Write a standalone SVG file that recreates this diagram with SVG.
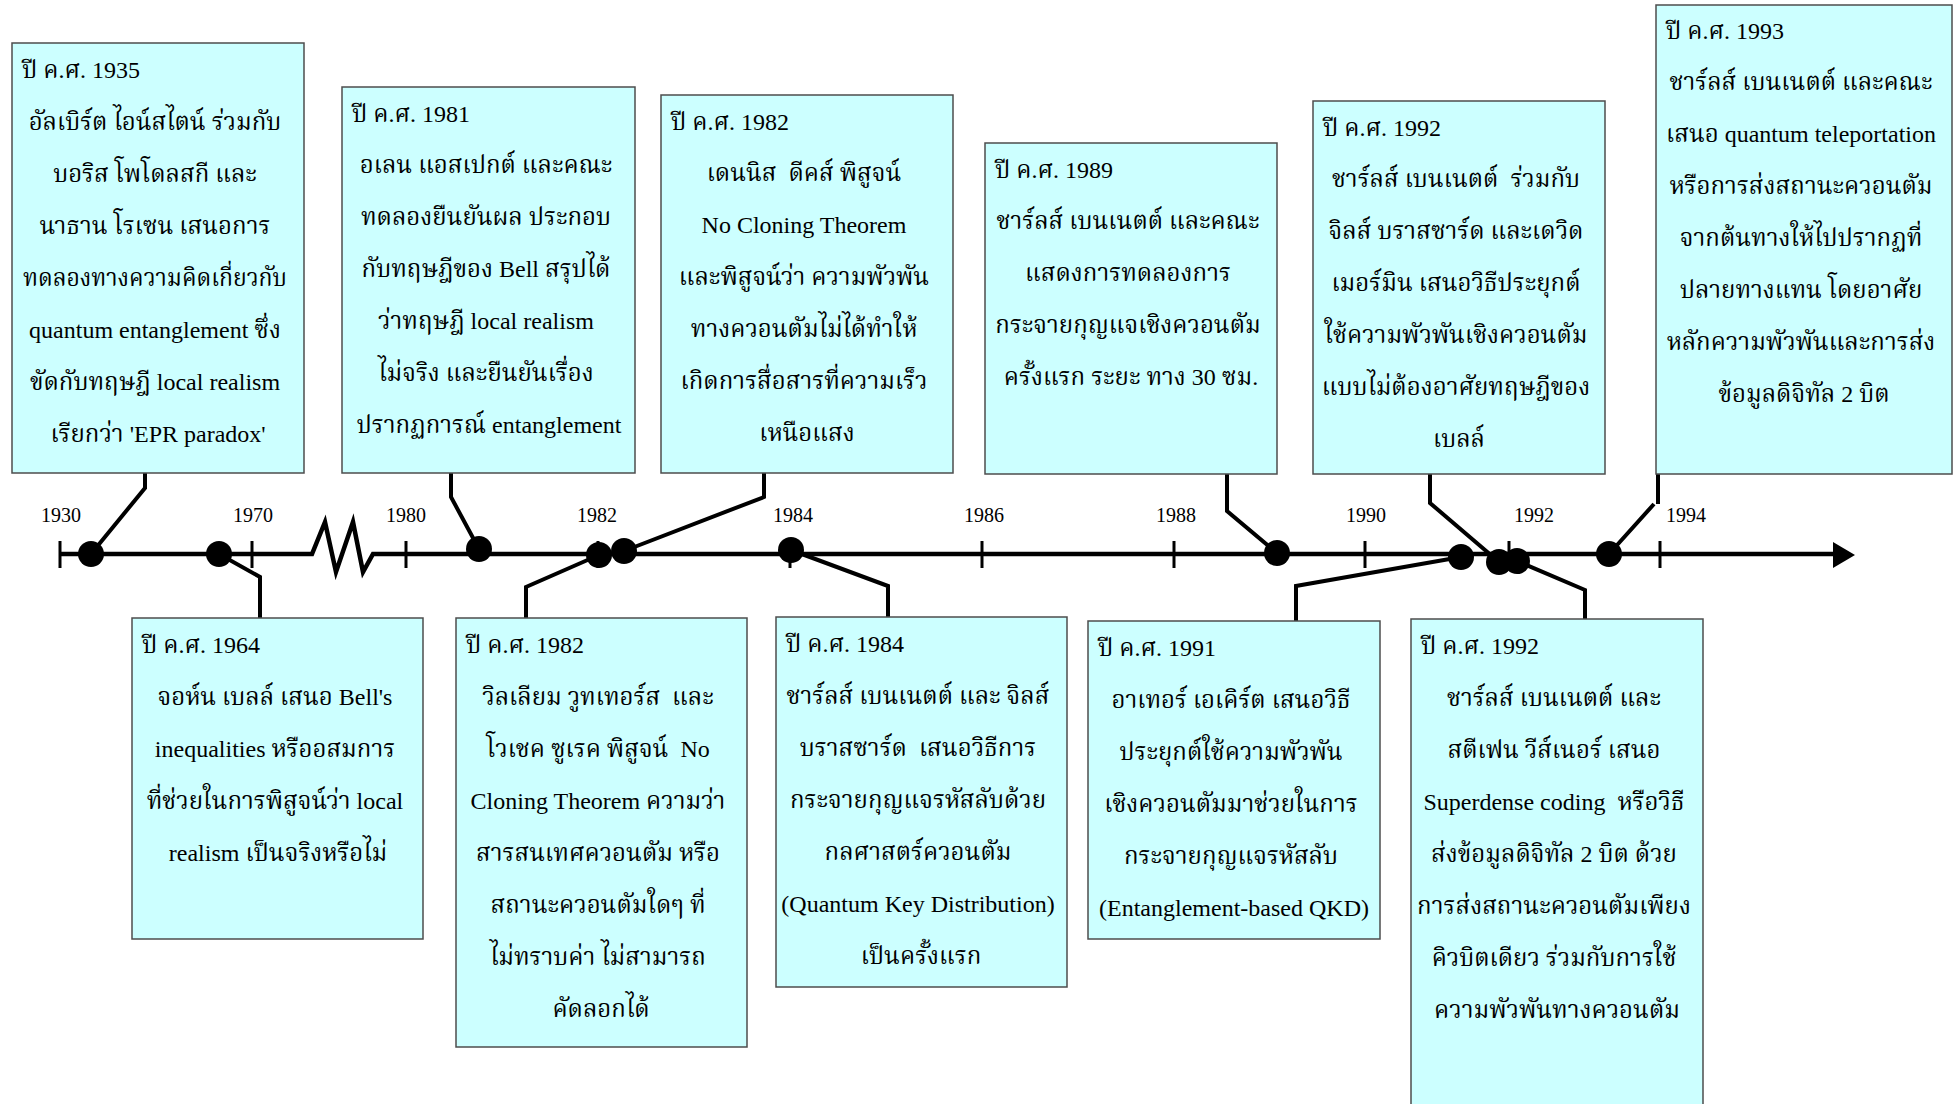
<svg xmlns="http://www.w3.org/2000/svg" width="1955" height="1104" viewBox="0 0 1955 1104">
<style>
  .box { fill: #CCFFFF; stroke: #4d4d4d; stroke-width: 1.5; }
  .hd { font-family: "Liberation Serif", "Noto Serif Thai", serif; font-size: 24px; fill: #000; }
  .bd { font-family: "Liberation Serif", "Noto Serif Thai", serif; font-size: 24px; fill: #000; text-anchor: middle; }
  .yr { font-family: "Liberation Serif", serif; font-size: 20px; fill: #000; text-anchor: middle; }
  .ax { fill: none; stroke: #000; stroke-width: 4.5; }
  .tk { stroke: #000; stroke-width: 3; }
  .cn { fill: none; stroke: #000; stroke-width: 4; stroke-linejoin: miter; }
  .dot { fill: #000; }
</style>

<!-- time axis -->
<g id="axis">
  <line class="tk" x1="60" y1="541" x2="60" y2="568"/>
  <polyline class="ax" points="60,554 312,554 325,522 336,572 353,522 363,572 373,554 1836,554"/>
  <polygon points="1833,542 1855,555 1833,568" fill="#000"/>
  <line class="tk" x1="252" y1="541" x2="252" y2="568"/>
  <line class="tk" x1="406" y1="541" x2="406" y2="568"/>
  <line class="tk" x1="598" y1="541" x2="598" y2="568"/>
  <line class="tk" x1="790" y1="541" x2="790" y2="568"/>
  <line class="tk" x1="982" y1="541" x2="982" y2="568"/>
  <line class="tk" x1="1174" y1="541" x2="1174" y2="568"/>
  <line class="tk" x1="1365" y1="541" x2="1365" y2="568"/>
  <line class="tk" x1="1509" y1="541" x2="1509" y2="568"/>
  <line class="tk" x1="1660" y1="541" x2="1660" y2="568"/>
  <text class="yr" x="61" y="522">1930</text>
  <text class="yr" x="253" y="522">1970</text>
  <text class="yr" x="406" y="522">1980</text>
  <text class="yr" x="597" y="522">1982</text>
  <text class="yr" x="793" y="522">1984</text>
  <text class="yr" x="984" y="522">1986</text>
  <text class="yr" x="1176" y="522">1988</text>
  <text class="yr" x="1366" y="522">1990</text>
  <text class="yr" x="1534" y="522">1992</text>
  <text class="yr" x="1686" y="522">1994</text>
</g>

<!-- leader lines from events to their boxes -->
<g id="connectors">
  <polyline class="cn" points="145,473 145,488 91,554"/>
  <polyline class="cn" points="219,554 260,577 260,618"/>
  <polyline class="cn" points="451,473 451,497 479,549"/>
  <polyline class="cn" points="526,618 526,587 599,555"/>
  <polyline class="cn" points="764,473 764,497 624,551"/>
  <polyline class="cn" points="791,550 888,586 888,617"/>
  <polyline class="cn" points="1227,474 1227,511 1277,553"/>
  <polyline class="cn" points="1461,557 1296,586 1296,621"/>
  <polyline class="cn" points="1430,474 1430,503 1499,562"/>
  <polyline class="cn" points="1517,561 1585,590 1585,619"/>
  <path class="cn" d="M1658,474 V504 M1654,504 L1609,554"/>
</g>

<!-- event markers -->
<g id="markers">
  <circle class="dot" cx="91" cy="554" r="13"/>
  <circle class="dot" cx="219" cy="554" r="13"/>
  <circle class="dot" cx="479" cy="549" r="13"/>
  <circle class="dot" cx="599" cy="555" r="13"/>
  <circle class="dot" cx="624" cy="551" r="13"/>
  <circle class="dot" cx="791" cy="550" r="13"/>
  <circle class="dot" cx="1277" cy="553" r="13"/>
  <circle class="dot" cx="1461" cy="557" r="13"/>
  <circle class="dot" cx="1499" cy="562" r="13"/>
  <circle class="dot" cx="1517" cy="561" r="13"/>
  <circle class="dot" cx="1609" cy="554" r="13"/>
</g>

<g id="event-1935">
  <rect class="box" x="12" y="43" width="292" height="430"/>
  <text class="hd" x="22" y="78">ปี ค.ศ. 1935</text>
  <text class="bd">
    <tspan x="158" y="130">อัลเบิร์ต ไอน์สไตน์ ร่วมกับ</tspan>
    <tspan x="158" y="182">บอริส โพโดลสกี และ</tspan>
    <tspan x="158" y="234">นาธาน โรเซน เสนอการ</tspan>
    <tspan x="158" y="286" textLength="264" lengthAdjust="spacingAndGlyphs">ทดลองทางความคิดเกี่ยวกับ</tspan>
    <tspan x="158" y="338">quantum entanglement ซึ่ง</tspan>
    <tspan x="158" y="390">ขัดกับทฤษฎี local realism</tspan>
    <tspan x="158" y="442">เรียกว่า 'EPR paradox'</tspan>
  </text>
</g>

<g id="event-1964">
  <rect class="box" x="132" y="618" width="291" height="321"/>
  <text class="hd" x="142" y="653">ปี ค.ศ. 1964</text>
  <text class="bd">
    <tspan x="278" y="705">จอห์น เบลล์ เสนอ Bell's</tspan>
    <tspan x="278" y="757">inequalities หรืออสมการ</tspan>
    <tspan x="278" y="809">ที่ช่วยในการพิสูจน์ว่า local</tspan>
    <tspan x="278" y="861">realism เป็นจริงหรือไม่</tspan>
  </text>
</g>

<g id="event-1981">
  <rect class="box" x="342" y="87" width="293" height="386"/>
  <text class="hd" x="352" y="122">ปี ค.ศ. 1981</text>
  <text class="bd">
    <tspan x="489" y="173">อเลน แอสเปกต์ และคณะ</tspan>
    <tspan x="489" y="225">ทดลองยืนยันผล ประกอบ</tspan>
    <tspan x="489" y="277">กับทฤษฎีของ Bell สรุปได้</tspan>
    <tspan x="489" y="329">ว่าทฤษฎี local realism</tspan>
    <tspan x="489" y="381">ไม่จริง และยืนยันเรื่อง</tspan>
    <tspan x="489" y="433">ปรากฏการณ์ entanglement</tspan>
  </text>
</g>

<g id="event-1982-dieks">
  <rect class="box" x="661" y="95" width="292" height="378"/>
  <text class="hd" x="671" y="130">ปี ค.ศ. 1982</text>
  <text class="bd">
    <tspan x="807" y="181">เดนนิส&#160; ดีคส์ พิสูจน์</tspan>
    <tspan x="807" y="233">No Cloning Theorem</tspan>
    <tspan x="807" y="285">และพิสูจน์ว่า ความพัวพัน</tspan>
    <tspan x="807" y="337">ทางควอนตัมไม่ได้ทำให้</tspan>
    <tspan x="807" y="389">เกิดการสื่อสารที่ความเร็ว</tspan>
    <tspan x="807" y="441">เหนือแสง</tspan>
  </text>
</g>

<g id="event-1982-wootters">
  <rect class="box" x="456" y="618" width="291" height="429"/>
  <text class="hd" x="466" y="653">ปี ค.ศ. 1982</text>
  <text class="bd">
    <tspan x="601" y="705">วิลเลียม วูทเทอร์ส&#160; และ</tspan>
    <tspan x="601" y="757">โวเชค ซูเรค พิสูจน์&#160; No</tspan>
    <tspan x="601" y="809">Cloning Theorem ความว่า</tspan>
    <tspan x="601" y="861">สารสนเทศควอนตัม หรือ</tspan>
    <tspan x="601" y="913">สถานะควอนตัมใดๆ ที่</tspan>
    <tspan x="601" y="965">ไม่ทราบค่า ไม่สามารถ</tspan>
    <tspan x="601" y="1017">คัดลอกได้</tspan>
  </text>
</g>

<g id="event-1984">
  <rect class="box" x="776" y="617" width="291" height="370"/>
  <text class="hd" x="786" y="652">ปี ค.ศ. 1984</text>
  <text class="bd">
    <tspan x="921" y="704">ชาร์ลส์ เบนเนตต์ และ จิลส์</tspan>
    <tspan x="921" y="756">บราสซาร์ด&#160; เสนอวิธีการ</tspan>
    <tspan x="921" y="808">กระจายกุญแจรหัสลับด้วย</tspan>
    <tspan x="921" y="860">กลศาสตร์ควอนตัม</tspan>
    <tspan x="921" y="912">(Quantum Key Distribution)</tspan>
    <tspan x="921" y="964">เป็นครั้งแรก</tspan>
  </text>
</g>

<g id="event-1989">
  <rect class="box" x="985" y="143" width="292" height="331"/>
  <text class="hd" x="995" y="178">ปี ค.ศ. 1989</text>
  <text class="bd">
    <tspan x="1131" y="229">ชาร์ลส์ เบนเนตต์ และคณะ</tspan>
    <tspan x="1131" y="281">แสดงการทดลองการ</tspan>
    <tspan x="1131" y="333">กระจายกุญแจเชิงควอนตัม</tspan>
    <tspan x="1131" y="385">ครั้งแรก ระยะ ทาง 30 ซม.</tspan>
  </text>
</g>

<g id="event-1991">
  <rect class="box" x="1088" y="621" width="292" height="318"/>
  <text class="hd" x="1098" y="656">ปี ค.ศ. 1991</text>
  <text class="bd">
    <tspan x="1234" y="708">อาเทอร์ เอเคิร์ต เสนอวิธี</tspan>
    <tspan x="1234" y="760">ประยุกต์ใช้ความพัวพัน</tspan>
    <tspan x="1234" y="812">เชิงควอนตัมมาช่วยในการ</tspan>
    <tspan x="1234" y="864">กระจายกุญแจรหัสลับ</tspan>
    <tspan x="1234" y="916">(Entanglement-based QKD)</tspan>
  </text>
</g>

<g id="event-1992-bbm">
  <rect class="box" x="1313" y="101" width="292" height="373"/>
  <text class="hd" x="1323" y="136">ปี ค.ศ. 1992</text>
  <text class="bd">
    <tspan x="1459" y="187">ชาร์ลส์ เบนเนตต์&#160; ร่วมกับ</tspan>
    <tspan x="1459" y="239">จิลส์ บราสซาร์ด และเดวิด</tspan>
    <tspan x="1459" y="291">เมอร์มิน เสนอวิธีประยุกต์</tspan>
    <tspan x="1459" y="343">ใช้ความพัวพันเชิงควอนตัม</tspan>
    <tspan x="1459" y="395">แบบไม่ต้องอาศัยทฤษฎีของ</tspan>
    <tspan x="1459" y="447">เบลล์</tspan>
  </text>
</g>

<g id="event-1992-superdense">
  <rect class="box" x="1411" y="619" width="292" height="500"/>
  <text class="hd" x="1421" y="654">ปี ค.ศ. 1992</text>
  <text class="bd">
    <tspan x="1557" y="706">ชาร์ลส์ เบนเนตต์ และ</tspan>
    <tspan x="1557" y="758">สตีเฟน วีส์เนอร์ เสนอ</tspan>
    <tspan x="1557" y="810">Superdense coding&#160; หรือวิธี</tspan>
    <tspan x="1557" y="862">ส่งข้อมูลดิจิทัล 2 บิต ด้วย</tspan>
    <tspan x="1557" y="914">การส่งสถานะควอนตัมเพียง</tspan>
    <tspan x="1557" y="966">คิวบิตเดียว ร่วมกับการใช้</tspan>
    <tspan x="1557" y="1018">ความพัวพันทางควอนตัม</tspan>
  </text>
</g>

<g id="event-1993">
  <rect class="box" x="1656" y="5" width="296" height="469"/>
  <text class="hd" x="1666" y="39">ปี ค.ศ. 1993</text>
  <text class="bd">
    <tspan x="1804" y="90">ชาร์ลส์ เบนเนตต์ และคณะ</tspan>
    <tspan x="1804" y="142">เสนอ quantum teleportation</tspan>
    <tspan x="1804" y="194">หรือการส่งสถานะควอนตัม</tspan>
    <tspan x="1804" y="246">จากต้นทางให้ไปปรากฏที่</tspan>
    <tspan x="1804" y="298">ปลายทางแทน โดยอาศัย</tspan>
    <tspan x="1804" y="350">หลักความพัวพันและการส่ง</tspan>
    <tspan x="1804" y="402">ข้อมูลดิจิทัล 2 บิต</tspan>
  </text>
</g>
</svg>
